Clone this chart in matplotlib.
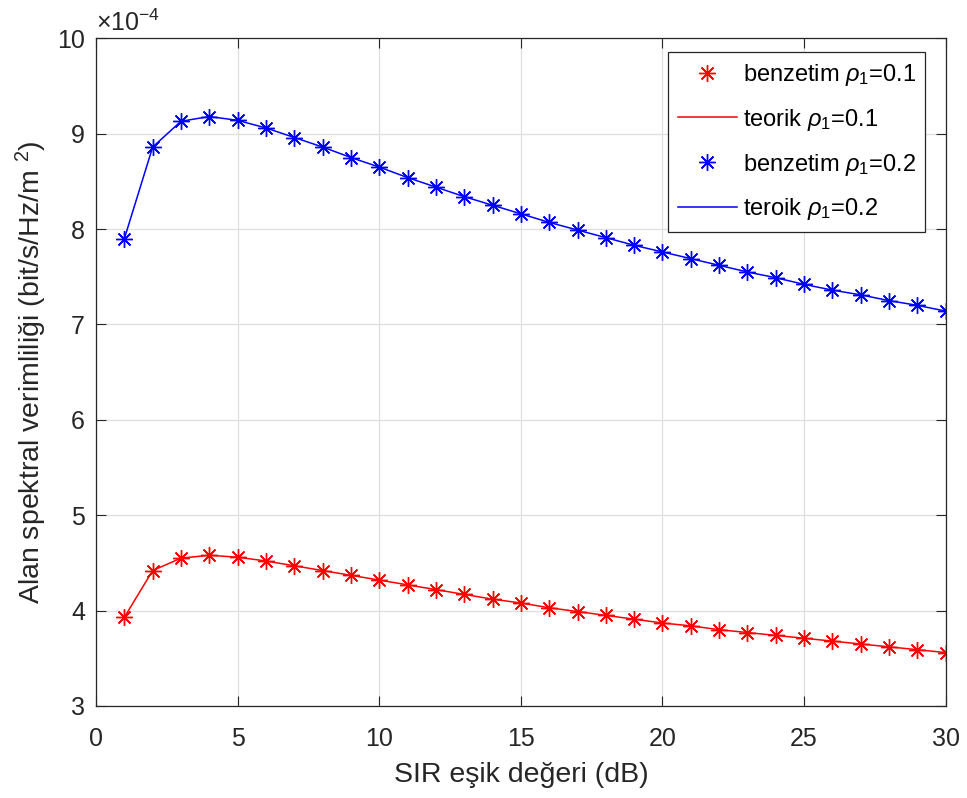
import matplotlib
matplotlib.use("Agg")
import matplotlib.pyplot as plt

plt.rcParams['font.family'] = ['Liberation Sans', 'DejaVu Sans']
plt.rcParams['mathtext.fontset'] = 'custom'
plt.rcParams['mathtext.rm'] = 'Liberation Sans'
plt.rcParams['mathtext.it'] = 'Liberation Sans:italic'

sir_db = list(range(1, 31))
sim_01 = [3.93, 4.42, 4.55, 4.58, 4.56, 4.52, 4.47, 4.42, 4.37, 4.32, 4.27, 4.22,
          4.17, 4.12, 4.08, 4.03, 3.99, 3.95, 3.91, 3.87, 3.84, 3.80, 3.77, 3.74,
          3.71, 3.68, 3.65, 3.62, 3.59, 3.56]
theo_01 = sim_01
sim_02 = [7.90, 8.86, 9.13, 9.18, 9.14, 9.06, 8.96, 8.86, 8.75, 8.65, 8.54, 8.44,
          8.34, 8.25, 8.16, 8.07, 7.99, 7.91, 7.83, 7.76, 7.69, 7.62, 7.55, 7.49,
          7.42, 7.36, 7.31, 7.25, 7.20, 7.14]
theo_02 = sim_02
labels = [r'benzetim $\rho_1$=0.1', r'teorik $\rho_1$=0.1',
          r'benzetim $\rho_1$=0.2', r'teroik $\rho_1$=0.2']

fig = plt.figure(figsize=(9.67, 7.98), dpi=100)
ax = fig.add_axes([0.0993, 0.1153, 0.8787, 0.8367])

mk = (8, 2, 0)
ax.plot(sir_db, sim_01, linestyle='none', marker=mk, color='#ff0000', markersize=12, markeredgewidth=1.0, label=labels[0])
ax.plot(sir_db, theo_01, '-', color='#ff0000', linewidth=1.1, label=labels[1])
ax.plot(sir_db, sim_02, linestyle='none', marker=mk, color='#0000ff', markersize=12, markeredgewidth=1.0, label=labels[2])
ax.plot(sir_db, theo_02, '-', color='#0000ff', linewidth=1.1, label=labels[3])

ax.set_xlim(0, 30)
ax.set_ylim(3, 10)
ax.set_xticks([0, 5, 10, 15, 20, 25, 30])
ax.set_yticks([3, 4, 5, 6, 7, 8, 9, 10])
ax.grid(True, color='#dfdfdf', linewidth=0.9)
ax.set_axisbelow(True)
ax.tick_params(direction='in', top=True, right=True, labelsize=18, colors='#262626', length=7)
ax.tick_params(axis='x', pad=15)
ax.tick_params(axis='y', pad=8)
for s in ax.spines.values():
    s.set_color('#262626')
    s.set_linewidth(0.9)

ax.set_xlabel('SIR eşik değeri (dB)', fontsize=20.5, color='#262626', labelpad=8)
ax.set_ylabel('Alan spektral verimliliği (bit/s/Hz/m $^{2}$)', fontsize=20.5, color='#262626', labelpad=6)
ax.text(0.0, 1.004, r'$\times$10$^{-4}$', transform=ax.transAxes, fontsize=18, color='#262626', va='bottom', ha='left')

leg = ax.legend(loc='upper right', bbox_to_anchor=(0.976, 0.979), borderaxespad=0, fontsize=17, numpoints=1,
                handlelength=2.5, labelspacing=0.8, borderpad=0.4, handletextpad=0.25,
                fancybox=False, framealpha=1, edgecolor='#262626')
leg.get_frame().set_linewidth(0.9)

fig.savefig('out.png', dpi=100)
